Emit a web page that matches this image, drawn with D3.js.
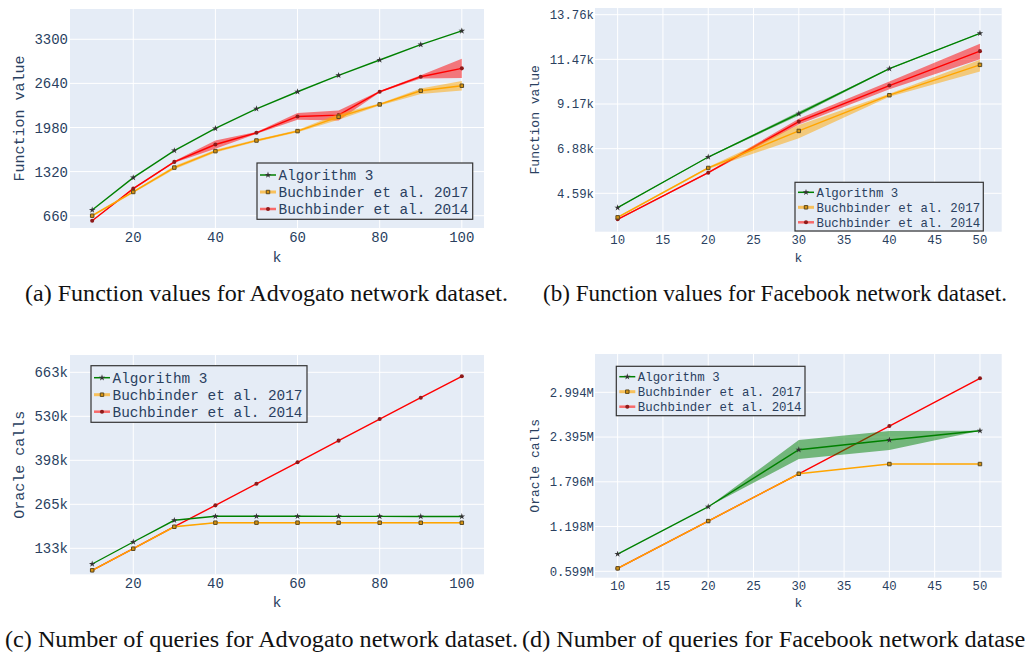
<!DOCTYPE html>
<html>
<head>
<meta charset="utf-8">
<script src="https://cdn.jsdelivr.net/npm/d3@7"></script>
<style>
  body { margin: 0; background: #fff; }
  svg { display: block; }
</style>
</head>
<body>
<svg id="fig" width="1025" height="654"></svg>
<script>
// k values
const kAdv = [10, 20, 30, 40, 50, 60, 70, 80, 90, 100];
const kFb = [10, 20, 30, 40, 50];

// (a) function values, Advogato
const advFuncAlg3 = [745, 1230, 1635, 1965, 2260, 2515, 2760, 2990, 3220, 3425];
const advFuncB17 = [660, 1015, 1380, 1626, 1785, 1926, 2140, 2325, 2530, 2605];
const advFuncB17Lo = [645, 1000, 1355, 1605, 1768, 1908, 2095, 2310, 2480, 2535];
const advFuncB17Hi = [675, 1030, 1405, 1648, 1802, 1944, 2185, 2340, 2565, 2676];
const advFuncB14 = [585, 1065, 1465, 1725, 1900, 2145, 2165, 2515, 2740, 2865];
const advFuncB14Lo = [580, 1052, 1452, 1660, 1886, 2095, 2085, 2505, 2712, 2720];
const advFuncB14Hi = [590, 1078, 1478, 1785, 1914, 2196, 2235, 2525, 2762, 3008];

// (b) function values, Facebook
const fbFuncAlg3 = [3847, 6451, 8675, 10987, 12805];
const fbFuncAlg3Lo = [3830, 6430, 8580, 10960, 12790];
const fbFuncAlg3Hi = [3865, 6470, 8770, 11015, 12820];
const fbFuncB17 = [3352, 5888, 7790, 9625, 11184];
const fbFuncB17Lo = [3300, 5840, 7414, 9540, 10840];
const fbFuncB17Hi = [3400, 5940, 8098, 9700, 11441];
const fbFuncB14 = [3250, 5646, 8269, 10120, 11888];
const fbFuncB14Lo = [3220, 5610, 8120, 9934, 11476];
const fbFuncB14Hi = [3280, 5680, 8420, 10325, 12264];

// (c) oracle calls, Advogato
const advCallAlg3 = [85300, 151600, 217000, 229000, 229000, 229000, 228900, 228800, 228600, 228500];
const advCallB17 = [66300, 131400, 197500, 209800, 209800, 209800, 209700, 209700, 209600, 209600];
const advCallB17Lo = [65800, 130900, 197000, 208300, 208300, 208300, 208200, 208200, 208100, 208100];
const advCallB17Hi = [66800, 131900, 198000, 211300, 211300, 211300, 211200, 211200, 211100, 211100];
const advCallB14 = [66300, 131400, 197700, 262000, 327000, 391800, 457000, 522000, 586500, 651000];

// (d) oracle calls, Facebook
const fbCallAlg3 = [829600, 1462600, 2225300, 2355000, 2480000];
const fbCallAlg3Lo = [829600, 1462600, 2101000, 2221000, 2480000];
const fbCallAlg3Hi = [829600, 1462600, 2355000, 2475500, 2480000];
const fbCallB17 = [638000, 1271000, 1904000, 2034000, 2034000];
const fbCallB14 = [638000, 1271000, 1904000, 2542000, 3181000];

// tick values and labels
const advXTicks = [20, 40, 60, 80, 100];
const fbXTicks = [10, 15, 20, 25, 30, 35, 40, 45, 50];
const advFuncYTicks = [660, 1320, 1980, 2640, 3300];
const advFuncYLabels = ['660', '1320', '1980', '2640', '3300'];
const fbFuncYTicks = [4587, 6880, 9173, 11467, 13760];
const fbFuncYLabels = ['4.59k', '6.88k', '9.17k', '11.47k', '13.76k'];
const advCallYTicks = [132600, 265200, 397800, 530400, 663000];
const advCallYLabels = ['133k', '265k', '398k', '530k', '663k'];
const fbCallYTicks = [598800, 1197600, 1796400, 2395200, 2994000];
const fbCallYLabels = ['0.599M', '1.198M', '1.796M', '2.395M', '2.994M'];

const seriesNames = ['Algorithm 3', 'Buchbinder et al. 2017', 'Buchbinder et al. 2014'];
const captions = [
  '(a) Function values for Advogato network dataset.',
  '(b) Function values for Facebook network dataset.',
  '(c) Number of queries for Advogato network dataset.',
  '(d) Number of queries for Facebook network dataset.'
];

const MONO = '"Liberation Mono", "Courier New", monospace';
const SERIF = '"Liberation Serif", "Times New Roman", serif';
const TEXT_COL = '#2a3f5f';
const BG = '#e5ecf6';

const styles = {
  green: {line: '#008000', band: 'rgba(0,128,0,0.5)', sym: d3.symbolStar, size: 13, fill: '#333', stroke: 'none',
          legLine: '#008000', legW: 1.5},
  orange: {line: '#ffa500', band: 'rgba(255,165,0,0.5)', sym: d3.symbolSquare, size: 12, fill: '#d9940f', stroke: '#5b4a22',
           legLine: '#f8c15c', legW: 3},
  red: {line: '#ff0000', band: 'rgba(255,0,0,0.5)', sym: d3.symbolCircle, size: 13, fill: '#8e1a1a', stroke: 'none',
        legLine: '#f76a6a', legW: 2.5}
};

const svg = d3.select('#fig');

function drawPanel(p) {
  const x = d3.scaleLinear().domain(p.xDomain).range([p.x0, p.x1]);
  const y = d3.scaleLinear().domain(p.yDomain).range([p.y1, p.y0]);
  const g = svg.append('g');

  g.append('rect')
    .attr('x', p.x0).attr('y', p.y0)
    .attr('width', p.x1 - p.x0).attr('height', p.y1 - p.y0)
    .attr('fill', BG);

  // grid
  g.selectAll('.gx').data(p.xTicks).enter().append('line')
    .attr('x1', d => x(d)).attr('x2', d => x(d))
    .attr('y1', p.y0).attr('y2', p.y1)
    .attr('stroke', '#fff').attr('stroke-width', 1);
  g.selectAll('.gy').data(p.yTicks).enter().append('line')
    .attr('x1', p.x0).attr('x2', p.x1)
    .attr('y1', d => y(d)).attr('y2', d => y(d))
    .attr('stroke', '#fff').attr('stroke-width', 1);

  // tick labels
  g.selectAll('.tx').data(p.xTicks).enter().append('text')
    .attr('x', d => x(d)).attr('y', p.xTickBase)
    .attr('text-anchor', 'middle')
    .style('font-family', MONO).style('font-size', p.fs + 'px').attr('fill', TEXT_COL)
    .text(d => d);
  g.selectAll('.ty').data(p.yTicks).enter().append('text')
    .attr('x', p.yTickRight).attr('y', d => y(d)).attr('dy', '0.36em')
    .attr('text-anchor', 'end')
    .style('font-family', MONO).style('font-size', p.fs + 'px').attr('fill', TEXT_COL)
    .text((d, i) => p.yLabels[i]);

  // axis titles
  g.append('text')
    .attr('x', (p.x0 + p.x1) / 2).attr('y', p.kBase)
    .attr('text-anchor', 'middle')
    .style('font-family', MONO).style('font-size', p.titleFs + 'px').attr('fill', TEXT_COL)
    .text('k');
  g.append('text')
    .attr('transform', `translate(${p.yTitleX},${(p.y0 + p.y1) / 2}) rotate(-90)`)
    .attr('text-anchor', 'middle').attr('dy', '0.36em')
    .style('font-family', MONO).style('font-size', p.titleFs + 'px').attr('fill', TEXT_COL)
    .text(p.yTitle);

  // series, drawn red -> orange -> green
  const clipId = 'clip' + p.id;
  svg.append('clipPath').attr('id', clipId).append('rect')
    .attr('x', p.x0).attr('y', p.y0).attr('width', p.x1 - p.x0).attr('height', p.y1 - p.y0);
  const plot = g.append('g').attr('clip-path', `url(#${clipId})`);

  for (const s of p.series.slice().reverse()) {
    const st = styles[s.style];
    if (s.lo) {
      const area = d3.area()
        .x((d, i) => x(p.ks[i]))
        .y0((d, i) => y(s.lo[i]))
        .y1((d, i) => y(s.hi[i]));
      plot.append('path').datum(s.lo).attr('d', area)
        .attr('fill', st.band).attr('stroke', 'none');
    }
    const line = d3.line().x((d, i) => x(p.ks[i])).y(d => y(d));
    plot.append('path').datum(s.values).attr('d', line)
      .attr('fill', 'none').attr('stroke', st.line).attr('stroke-width', 1.4);
    plot.selectAll(null).data(s.values).enter().append('path')
      .attr('transform', (d, i) => `translate(${x(p.ks[i])},${y(d)})`)
      .attr('d', d3.symbol().type(st.sym).size(st.size))
      .attr('fill', st.fill).attr('stroke', st.stroke).attr('stroke-width', 1);
  }

  // legend
  const L = p.legend;
  const lg = g.append('g');
  lg.append('rect')
    .attr('x', L.x).attr('y', L.y).attr('width', L.w).attr('height', L.h)
    .attr('fill', BG).attr('stroke', '#333').attr('stroke-width', 1.2);
  p.series.forEach((s, i) => {
    const st = styles[s.style];
    const ry = L.y + L.row0 + i * L.step;
    lg.append('line')
      .attr('x1', L.x + 3).attr('x2', L.x + 19).attr('y1', ry).attr('y2', ry)
      .attr('stroke', st.legLine).attr('stroke-width', st.legW);
    lg.append('path')
      .attr('transform', `translate(${L.x + 11},${ry})`)
      .attr('d', d3.symbol().type(st.sym).size(st.size))
      .attr('fill', st.fill).attr('stroke', st.stroke).attr('stroke-width', 1);
    lg.append('text')
      .attr('x', L.x + 21.5).attr('y', ry).attr('dy', '0.36em')
      .style('font-family', MONO).style('font-size', L.fs + 'px').attr('fill', TEXT_COL)
      .text(seriesNames[i]);
  });
}

const left = {fs: 14, titleFs: 15, yTickRight: 68, yTitleX: 18.5, x0: 70, x1: 484, xDomain: [4.6, 105.4], ks: kAdv, xTicks: advXTicks};
const right = {fs: 12.3, titleFs: 13, yTickRight: 594, yTitleX: 534, x0: 595, x1: 1001.7, xDomain: [7.5, 52.4], ks: kFb, xTicks: fbXTicks};

drawPanel(Object.assign({}, left, {
  id: 'a', y0: 9, y1: 228, yDomain: [476, 3753],
  yTicks: advFuncYTicks, yLabels: advFuncYLabels, yTitle: 'Function value',
  xTickBase: 241.5, kBase: 261.5,
  series: [
    {style: 'green', values: advFuncAlg3},
    {style: 'orange', values: advFuncB17, lo: advFuncB17Lo, hi: advFuncB17Hi},
    {style: 'red', values: advFuncB14, lo: advFuncB14Lo, hi: advFuncB14Hi}
  ],
  legend: {x: 257, y: 163, w: 215.7, h: 56.3, row0: 12, step: 17, fs: 14.4}
}));

drawPanel(Object.assign({}, right, {
  id: 'b', y0: 8, y1: 231.7, yDomain: [2615, 14104],
  yTicks: fbFuncYTicks, yLabels: fbFuncYLabels, yTitle: 'Function value',
  xTickBase: 244, kBase: 261.5,
  series: [
    {style: 'green', values: fbFuncAlg3, lo: fbFuncAlg3Lo, hi: fbFuncAlg3Hi},
    {style: 'orange', values: fbFuncB17, lo: fbFuncB17Lo, hi: fbFuncB17Hi},
    {style: 'red', values: fbFuncB14, lo: fbFuncB14Lo, hi: fbFuncB14Hi}
  ],
  legend: {x: 795, y: 182.3, w: 188.3, h: 48.7, row0: 10, step: 15, fs: 12.4}
}));

drawPanel(Object.assign({}, left, {
  id: 'c', y0: 355, y1: 574.3, yDomain: [54245, 715136],
  yTicks: advCallYTicks, yLabels: advCallYLabels, yTitle: 'Oracle calls',
  xTickBase: 587.5, kBase: 607,
  series: [
    {style: 'green', values: advCallAlg3},
    {style: 'orange', values: advCallB17, lo: advCallB17Lo, hi: advCallB17Hi},
    {style: 'red', values: advCallB14}
  ],
  legend: {x: 91, y: 365.7, w: 216, h: 56.6, row0: 12, step: 17, fs: 14.4}
}));

drawPanel(Object.assign({}, right, {
  id: 'd', y0: 354, y1: 577.7, yDomain: [513160, 3506500],
  yTicks: fbCallYTicks, yLabels: fbCallYLabels, yTitle: 'Oracle calls',
  xTickBase: 590, kBase: 607,
  series: [
    {style: 'green', values: fbCallAlg3, lo: fbCallAlg3Lo, hi: fbCallAlg3Hi},
    {style: 'orange', values: fbCallB17},
    {style: 'red', values: fbCallB14}
  ],
  legend: {x: 616.3, y: 366.3, w: 188.7, h: 49.4, row0: 10.4, step: 15, fs: 12.4}
}));

// captions (the last one runs past the right edge, as in the source figure)
const capPos = [
  {x: 25, y: 301, w: 483},
  {x: 543, y: 301, w: 464},
  {x: 5, y: 647, w: 513},
  {x: 522, y: 647, w: 516}
];
svg.selectAll('.cap').data(captions).enter().append('text')
  .attr('x', (d, i) => capPos[i].x).attr('y', (d, i) => capPos[i].y)
  .attr('textLength', (d, i) => capPos[i].w)
  .attr('lengthAdjust', 'spacingAndGlyphs')
  .style('font-family', SERIF).style('font-size', '24px').attr('fill', '#111')
  .text(d => d);
</script>
</body>
</html>
